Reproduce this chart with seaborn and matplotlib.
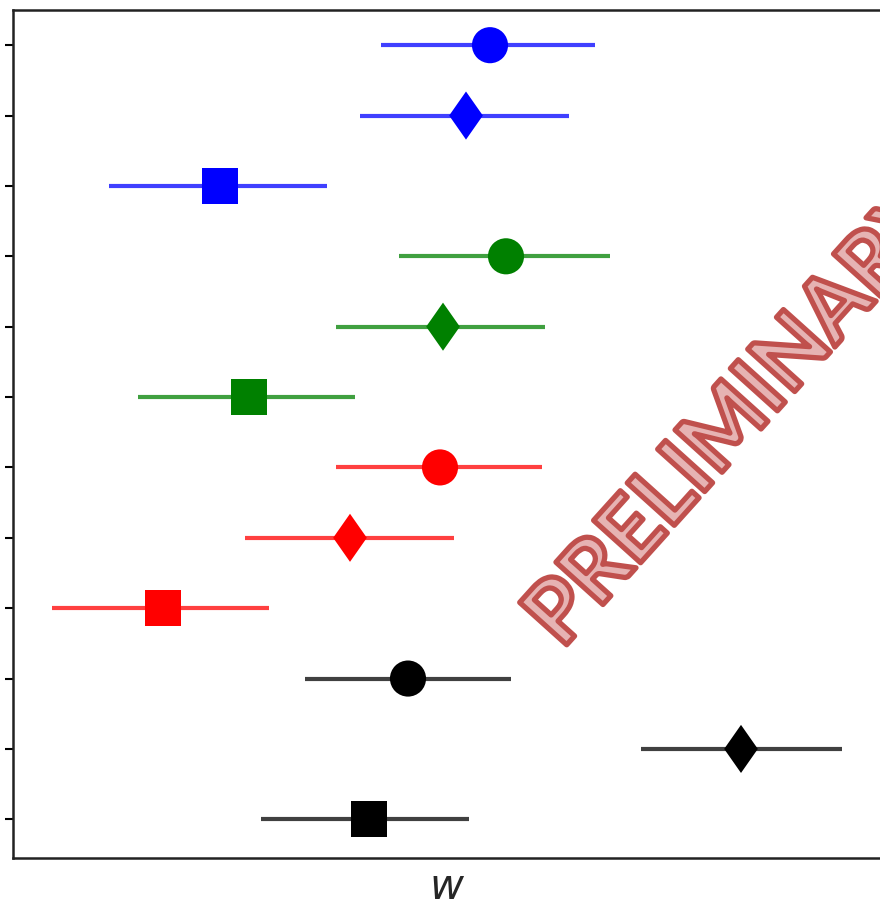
import matplotlib
matplotlib.use("Agg")
import matplotlib.pyplot as plt
import matplotlib.patheffects as pe
import numpy as np
import pandas as pd
import seaborn as sns

# Estimates of w per configuration, listed top to bottom
groups = ["blue", "blue", "blue", "green", "green", "green",
          "red", "red", "red", "black", "black", "black"]
shapes = ["circle", "diamond", "square"] * 4
w_center = [4.77, 4.53, 2.07, 4.93, 4.30, 2.36, 4.27, 3.37, 1.50, 3.95, 7.28, 3.56]
w_low = [3.68, 3.47, 0.96, 3.86, 3.23, 1.25, 3.23, 2.32, 0.39, 2.92, 6.28, 2.48]
w_high = [5.82, 5.56, 3.14, 5.97, 5.32, 3.42, 5.29, 4.41, 2.56, 4.98, 8.29, 4.56]

df = pd.DataFrame({
    "row": np.arange(len(w_center)),
    "w": w_center, "lo": w_low, "hi": w_high,
    "group": groups, "shape": shapes,
})

palette = {"blue": "#0000ff", "green": "#008000", "red": "#ff0000", "black": "#000000"}
diamond = [(0, 1), (0.7, 0), (0, -1), (-0.7, 0)]
markers = {"circle": "o", "diamond": diamond, "square": "s"}
sizes = {"circle": 676, "diamond": 1200, "square": 676}

sns.set_style("ticks")
fig = plt.figure(figsize=(8.8, 9.09), dpi=100)
ax = fig.add_axes([13 / 880, 1 - 858 / 909, 866 / 880, (858 - 10) / 909])

# Uncertainty intervals
for _, r in df.iterrows():
    ax.hlines(r["row"], r["lo"], r["hi"], color=palette[r["group"]],
              alpha=0.75, lw=3, zorder=1)

sns.scatterplot(data=df, x="w", y="row", hue="group", style="shape",
                size="shape", palette=palette, markers=markers, sizes=sizes,
                linewidth=0, legend=False, ax=ax, zorder=2)

ax.set_xlim(0, 8.66)
ax.set_ylim(11.55, -0.5)
ax.set_yticks(df["row"])
ax.set_yticklabels([])
ax.set_xticks([])
ax.set_ylabel("")
ax.set_xlabel("w", fontsize=30, fontstyle="italic", labelpad=6)
ax.tick_params(axis="y", length=6, width=1.5, color="black")
for side in ["left", "bottom", "top"]:
    ax.spines[side].set_linewidth(1.8)
    ax.spines[side].set_color("#222222")
ax.spines["right"].set_visible(False)

fig.text(562 / 880, 1 - 650 / 909, "PRELIMINARY", rotation=48,
         rotation_mode="anchor", ha="left", va="baseline",
         family="Lato", weight="bold", fontsize=63,
         path_effects=[pe.PathPatchEffect(edgecolor="#c0504d",
                                          facecolor="#e6b3b3", linewidth=3.8,
                                          joinstyle="round")])

fig.savefig("out.png", dpi=100)
